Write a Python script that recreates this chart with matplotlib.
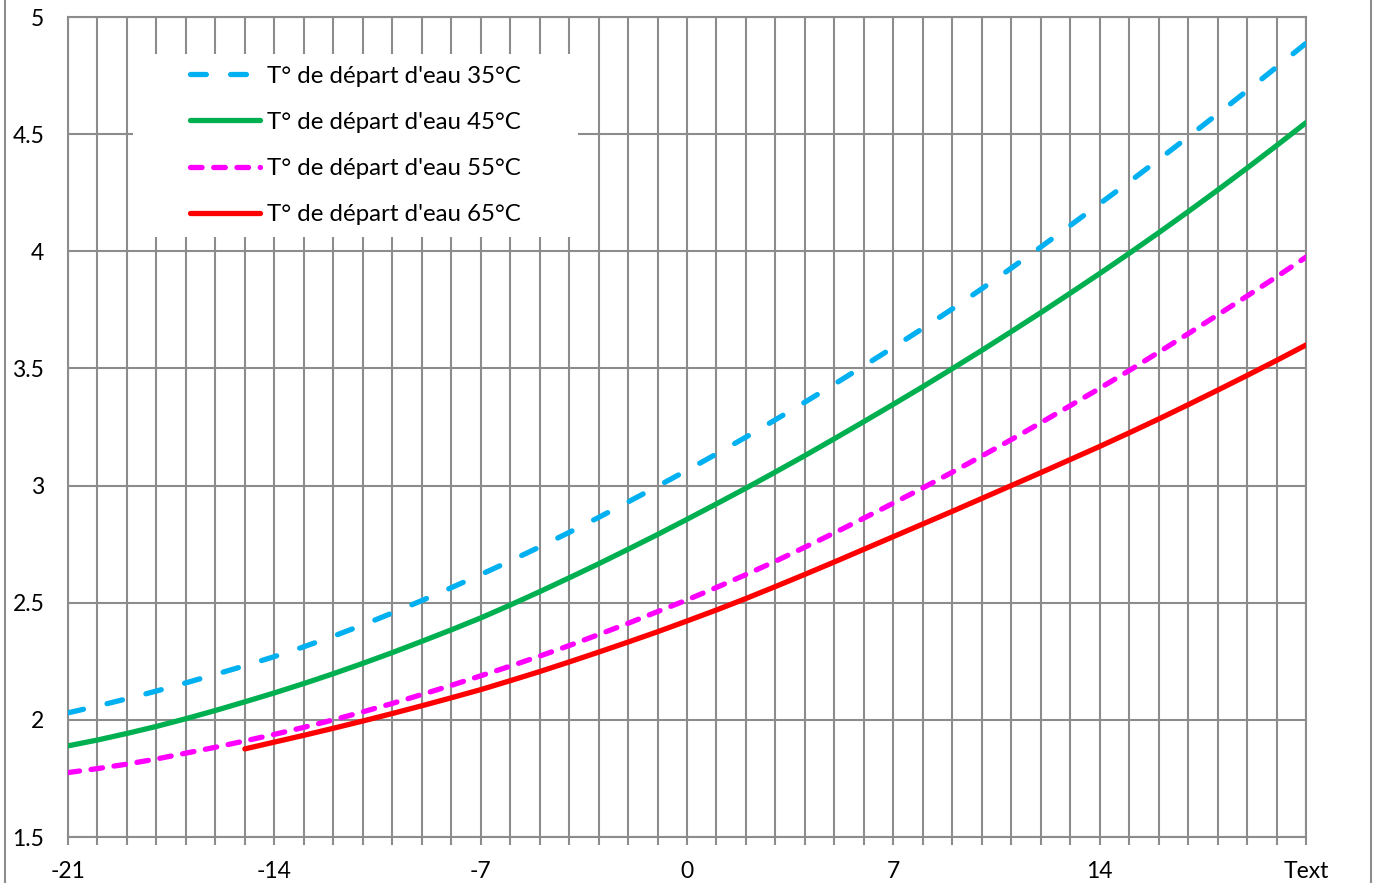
import matplotlib
matplotlib.use("Agg")
import matplotlib.pyplot as plt
from matplotlib.patches import Rectangle
from matplotlib.lines import Line2D
from matplotlib.ticker import MultipleLocator, FixedLocator

plt.rcParams['font.family'] = ['Lato', 'DejaVu Sans']

# Outdoor temperature (°C)
t_ext = list(range(-21, 22))
t_ext_65 = list(range(-15, 22))

# COP vs outdoor temperature for each water supply temperature
cop_35 = [2.030, 2.059, 2.090, 2.123, 2.158, 2.194, 2.231, 2.270, 2.312, 2.357,
          2.405, 2.456, 2.509, 2.564, 2.620, 2.678, 2.738, 2.800, 2.864, 2.930,
          2.997, 3.065, 3.135, 3.207, 3.281, 3.356, 3.433, 3.511, 3.590, 3.671,
          3.754, 3.840, 3.928, 4.018, 4.110, 4.203, 4.296, 4.391, 4.488, 4.586,
          4.685, 4.786, 4.888]
cop_45 = [1.889, 1.914, 1.942, 1.972, 2.005, 2.040, 2.077, 2.115, 2.155, 2.197,
          2.241, 2.287, 2.335, 2.384, 2.435, 2.490, 2.547, 2.606, 2.666, 2.728,
          2.791, 2.856, 2.922, 2.989, 3.058, 3.128, 3.200, 3.273, 3.347, 3.422,
          3.499, 3.577, 3.657, 3.738, 3.821, 3.905, 3.991, 4.079, 4.169, 4.261,
          4.355, 4.451, 4.549]
cop_55 = [1.775, 1.792, 1.811, 1.833, 1.858, 1.883, 1.910, 1.938, 1.968, 2.000,
          2.034, 2.070, 2.108, 2.147, 2.188, 2.229, 2.272, 2.317, 2.364, 2.412,
          2.462, 2.512, 2.565, 2.620, 2.677, 2.737, 2.798, 2.861, 2.925, 2.990,
          3.057, 3.126, 3.196, 3.268, 3.341, 3.415, 3.491, 3.569, 3.648, 3.728,
          3.809, 3.891, 3.975]
cop_65 = [1.876, 1.905, 1.934, 1.964, 1.995, 2.027, 2.060, 2.094, 2.129, 2.167,
          2.206, 2.247, 2.289, 2.332, 2.376, 2.422, 2.469, 2.518, 2.569, 2.621,
          2.674, 2.728, 2.782, 2.836, 2.890, 2.945, 3.000, 3.055, 3.111, 3.167,
          3.225, 3.284, 3.345, 3.407, 3.470, 3.534, 3.600]

labels = ["T° de départ d'eau 35°C", "T° de départ d'eau 45°C",
          "T° de départ d'eau 55°C", "T° de départ d'eau 65°C"]
x_tick_values = [-21, -14, -7, 0, 7, 14, 21]
x_tick_labels = ["-21", "-14", "-7", "0", "7", "14", "Text"]
y_tick_values = [1.5, 2, 2.5, 3, 3.5, 4, 4.5, 5]
y_tick_labels = ["1.5", "2", "2.5", "3", "3.5", "4", "4.5", "5"]

GRID = '#8c8c8c'
W, H = 1376, 883
fig = plt.figure(figsize=(W / 100, H / 100), dpi=100)
ax = fig.add_axes([68 / W, (H - 837) / H, 1238 / W, 820 / H])

ax.set_xlim(-21, 21)
ax.set_ylim(1.5, 5)

# grid: a line at every degree, every 0.5 of COP
ax.xaxis.set_major_locator(FixedLocator(x_tick_values))
ax.xaxis.set_minor_locator(MultipleLocator(1))
ax.yaxis.set_major_locator(FixedLocator(y_tick_values))
ax.set_xticklabels(x_tick_labels)
ax.set_yticklabels(y_tick_labels)
ax.grid(True, which='both', axis='x', color=GRID, lw=1.5, zorder=0)
ax.grid(True, which='major', axis='y', color=GRID, lw=1.5, zorder=0)
ax.set_axisbelow(True)
for s in ax.spines.values():
    s.set_color(GRID)
    s.set_linewidth(1.5)
ax.tick_params(axis='x', which='both', direction='out', length=6, width=1.5,
               color=GRID, pad=11, labelsize=16.5)
ax.tick_params(axis='y', which='both', length=0, pad=17, labelsize=16.5)

lw = 3.8
l35, = ax.plot(t_ext, cop_35, color='#00B0F0', lw=lw, dashes=(3.0, 4.6),
               dash_capstyle='round', zorder=3)
l45, = ax.plot(t_ext, cop_45, color='#00B050', lw=lw,
               solid_capstyle='round', zorder=3)
l55, = ax.plot(t_ext, cop_55, color='#FF00FF', lw=lw, dashes=(2.2, 2.2),
               dash_capstyle='round', zorder=3)
l65, = ax.plot(t_ext_65, cop_65, color='#FF0000', lw=lw,
               solid_capstyle='round', zorder=3)

# white panel behind the legend
x0 = (133 - 68) / 1238
x1 = (578 - 68) / 1238
y0 = (837 - 237) / 820
y1 = (837 - 54) / 820
ax.add_patch(Rectangle((x0, y0), x1 - x0, y1 - y0, transform=ax.transAxes,
                       facecolor='white', edgecolor='none', zorder=2))

fs = 17.3
fs_px = fs * 100 / 72
leg = ax.legend([l35, l45, l55, l65], labels, loc='center left',
                bbox_to_anchor=((190 - 68) / 1238, (837 - 145.5) / 820),
                frameon=False, fontsize=fs, borderpad=0, borderaxespad=0,
                handlelength=70 / fs_px, handletextpad=7 / fs_px,
                labelspacing=1.05)
leg.set_zorder(4)

# outer chart frame edges
for xf in (4.5 / W, 1370.5 / W):
    fig.add_artist(Line2D([xf, xf], [0, 1], transform=fig.transFigure,
                          color=GRID, lw=1.5))

fig.savefig('out.png', dpi=100)
